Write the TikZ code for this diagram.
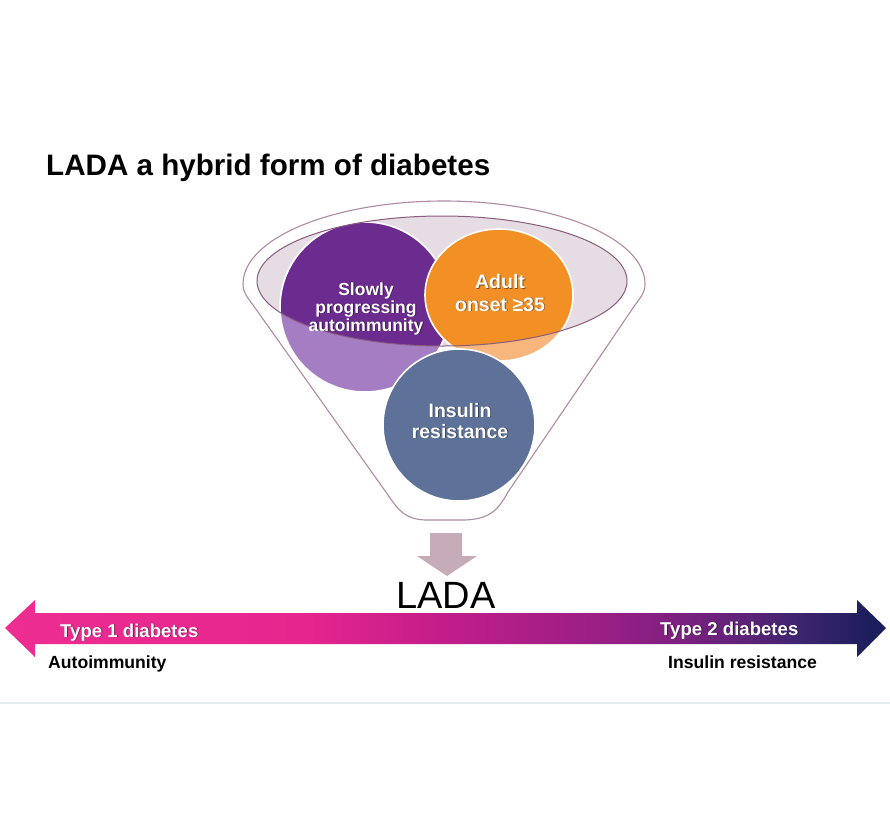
\documentclass[tikz,border=0pt]{standalone}
\usepackage{fontspec}
\setmainfont{Liberation Sans}
\definecolor{funnelC}{HTML}{B08AA2}
\definecolor{ellFill}{HTML}{E5DDE3}
\definecolor{ellLine}{HTML}{8A5C7E}
\definecolor{purpD}{HTML}{6B2B8F}
\definecolor{purpL}{HTML}{A57DC2}
\definecolor{orD}{HTML}{F29025}
\definecolor{orL}{HTML}{F7B67B}
\definecolor{blueC}{HTML}{5E7198}
\definecolor{downC}{HTML}{C5ACB8}
\definecolor{gPink}{HTML}{EE2D92}
\definecolor{gPink2}{HTML}{E6258E}
\definecolor{gMag}{HTML}{C21D8A}
\definecolor{gPur}{HTML}{941F84}
\definecolor{gPur2}{HTML}{66227A}
\definecolor{gNavy1}{HTML}{3E2470}
\definecolor{gNavy}{HTML}{1D1F5C}
\definecolor{rule}{HTML}{E2EDED}
\pgfdeclarehorizontalshading{ladagrad}{100bp}{color(0bp)=(gPink); color(25bp)=(gPink); color(42bp)=(gPink2); color(50bp)=(gMag); color(60bp)=(gPur); color(66bp)=(gPur2); color(70bp)=(gNavy1); color(74bp)=(gNavy); color(100bp)=(gNavy)}
\tikzset{
  funnelline/.style={draw=funnelC, line width=1.1pt},
  whitetxt/.style={text=white, anchor=base, inner sep=0pt},
  shadowtxt/.style={text=black, opacity=0.45, anchor=base, inner sep=0pt},
  blacktxt/.style={text=black, anchor=base west, inner sep=0pt},
  circborder/.style={draw=white, line width=1.6pt},
}
\newcommand{\ladatxt}[5]{%
  \node[shadowtxt, font={\fontsize{#4}{#4}\selectfont\bfseries}] (#1s) at (#2+0.9,#3+0.9) {#5};
  \node[whitetxt, font={\fontsize{#4}{#4}\selectfont\bfseries}] (#1) at (#2,#3) {#5};
}
\begin{document}
\begin{tikzpicture}[x=1pt,y=-1pt]
\useasboundingbox (0,0) rectangle (890,820);
\fill[white] (0,0) rectangle (890,820);

% title
\node[blacktxt, font={\fontsize{29.6}{34}\selectfont\bfseries}] (title) at (46,175) {LADA a hybrid form of diabetes};

% funnel
\path[fill=white] (243,284) .. controls (243,238.2) and (333,201) .. (444,201)
  .. controls (555,201) and (645,238.2) .. (645,284)
  .. controls (645,293) and (640,298) .. (635,305)
  -- (508,492) .. controls (498,510) and (490,519) .. (465,520)
  -- (425,520) .. controls (405,519) and (398,510) .. (388,495)
  -- (253,305) .. controls (248,298) and (243,293) .. (243,284) -- cycle;

% inner ellipse
\fill[ellFill] (442,281) ellipse [x radius=185, y radius=65];

% light circles
\filldraw[fill=purpL, circborder] (365,307) circle [radius=85];
\filldraw[fill=orL, circborder] (499,295) ellipse [x radius=74, y radius=66];
\begin{scope}
  \clip (442,281) ellipse [x radius=185, y radius=65];
  \fill[ellFill] (442,281) ellipse [x radius=185, y radius=65];
  \filldraw[fill=purpD, circborder] (365,307) circle [radius=85];
  \filldraw[fill=orD, circborder] (499,295) ellipse [x radius=74, y radius=66];
\end{scope}
\draw[draw=ellLine, line width=1pt] (442,281) ellipse [x radius=185, y radius=65];

% blue circle
\filldraw[fill=blueC, circborder] (459,425) circle [radius=76];

% funnel outline on top
\draw[funnelline] (243,284) .. controls (243,238.2) and (333,201) .. (444,201)
  .. controls (555,201) and (645,238.2) .. (645,284)
  .. controls (645,293) and (640,298) .. (635,305)
  -- (508,492) .. controls (498,510) and (490,519) .. (465,520)
  -- (425,520) .. controls (405,519) and (398,510) .. (388,495)
  -- (253,305) .. controls (248,298) and (243,293) .. (243,284) -- cycle;

% circle texts
\ladatxt{p1}{366}{295}{17.5}{Slowly}
\ladatxt{p2}{366}{313}{17.5}{progressing}
\ladatxt{p3}{366}{331}{17.5}{autoimmunity}
\ladatxt{o1}{500}{288.5}{19.5}{Adult}
\ladatxt{o2}{500}{311}{19.5}{onset ≥35}
\ladatxt{b1}{460}{417}{19.5}{Insulin}
\ladatxt{b2}{460}{438}{19.5}{resistance}

% down arrow
\fill[downC] (430,533) -- (462,533) -- (462,556) -- (477,556) -- (447,576) -- (417,556) -- (430,556) -- cycle;

% LADA label
\node[text=black, anchor=base, inner sep=0pt, font={\fontsize{38}{40}\selectfont}] (lada) at (446,608) {LADA};

% double arrow
\shade[shading=ladagrad] (5,628) -- (35,600) -- (35,613) -- (857,613) -- (857,600) -- (886,628)
  -- (857,657) -- (857,644) -- (35,644) -- (35,657) -- cycle;

\node[shadowtxt, anchor=base west, font={\fontsize{18.6}{20}\selectfont\bfseries}] (t1s) at (60.9,637.9) {Type 1 diabetes};
\node[whitetxt, anchor=base west, font={\fontsize{18.6}{20}\selectfont\bfseries}] (t1) at (60,637) {Type 1 diabetes};
\node[shadowtxt, anchor=base west, font={\fontsize{18.6}{20}\selectfont\bfseries}] (t2s) at (660.9,635.9) {Type 2 diabetes};
\node[whitetxt, anchor=base west, font={\fontsize{18.6}{20}\selectfont\bfseries}] (t2) at (660,635) {Type 2 diabetes};

\node[blacktxt, font={\fontsize{17.6}{20}\selectfont\bfseries}] (auto) at (48,668) {Autoimmunity};
\node[blacktxt, font={\fontsize{17.6}{20}\selectfont\bfseries}] (ins) at (668,668) {Insulin resistance};

% faint rule
\draw[draw=rule, line width=1.5pt] (0,703) -- (890,703);
\end{tikzpicture}
\end{document}
